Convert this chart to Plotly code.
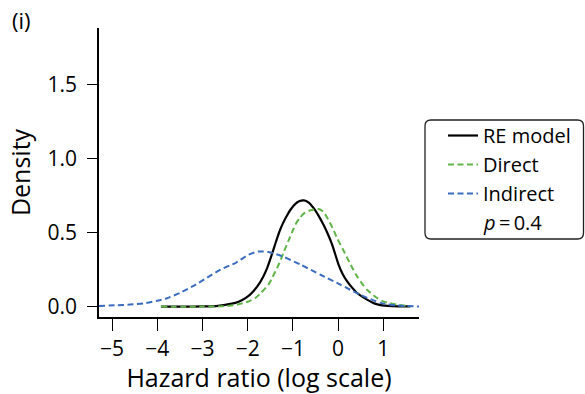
import plotly.graph_objects as go

# ---- data ----
re_x = [-3.92, -3.4, -3.0, -2.7, -2.5, -2.27, -2.12, -1.98, -1.87, -1.76, -1.66, -1.57, -1.5,
        -1.42, -1.35, -1.28, -1.2, -1.13, -1.05, -0.94, -0.85, -0.76, -0.65, -0.54, -0.43,
        -0.32, -0.22, -0.13, 0.01, 0.1, 0.2, 0.31, 0.42, 0.64, 0.8, 0.94, 1.2, 1.6]
re_y = [0, 0, 0.001, 0.004, 0.012, 0.025, 0.045, 0.072, 0.105, 0.148, 0.2, 0.26, 0.32,
        0.395, 0.46, 0.52, 0.575, 0.615, 0.655, 0.695, 0.712, 0.716, 0.702, 0.664, 0.612,
        0.55, 0.485, 0.417, 0.283, 0.22, 0.17, 0.128, 0.092, 0.047, 0.022, 0.01, 0.004, 0.001]

direct_x = [-3.92, -3.0, -2.6, -2.4, -2.2, -2.0, -1.83, -1.7, -1.54, -1.45, -1.35, -1.27, -1.2,
            -1.09, -1.0, -0.94, -0.85, -0.76, -0.61, -0.43, -0.33, -0.24, -0.12, -0.02, 0.1,
            0.2, 0.31, 0.42, 0.53, 0.64, 0.86, 1.0, 1.3, 1.6]
direct_y = [0, 0, 0.002, 0.006, 0.016, 0.033, 0.058, 0.095, 0.148, 0.2, 0.26, 0.315, 0.37,
            0.45, 0.515, 0.555, 0.598, 0.627, 0.65, 0.658, 0.64, 0.6, 0.53, 0.46, 0.39,
            0.33, 0.264, 0.204, 0.155, 0.114, 0.059, 0.035, 0.013, 0.002]

indirect_x = [-5.29, -4.9, -4.6, -4.3, -4.0, -3.8, -3.5, -3.2, -2.9, -2.6, -2.4, -2.27, -1.98,
              -1.76, -1.54, -1.24, -0.83, -0.39, 0.05, 0.49, 0.94, 1.3, 1.79]
indirect_y = [0.005, 0.009, 0.014, 0.022, 0.04, 0.055, 0.092, 0.14, 0.195, 0.25, 0.278, 0.294, 0.35,
              0.372, 0.368, 0.34, 0.283, 0.215, 0.148, 0.08, 0.025, 0.008, 0.001]

x_ticks = [-5, -4, -3, -2, -1, 0, 1]
y_ticks = [0.0, 0.5, 1.0, 1.5]
series_names = ["RE model", "Direct", "Indirect"]
p_label = "<i>p</i>\u2009=\u20090.4"

FONT = "Open Sans"
FS = 21
BLACK = "#000000"
GREEN = "#62b54a"
BLUE = "#3b6cc0"

fig = go.Figure()
fig.add_trace(go.Scatter(x=re_x, y=re_y, mode="lines", name=series_names[0],
                         line=dict(color=BLACK, width=2.2, shape="spline", smoothing=0.6)))
fig.add_trace(go.Scatter(x=direct_x, y=direct_y, mode="lines", name=series_names[1],
                         line=dict(color=GREEN, width=2, dash="6px,3.5px", shape="spline", smoothing=0.6)))
fig.add_trace(go.Scatter(x=indirect_x, y=indirect_y, mode="lines", name=series_names[2],
                         line=dict(color=BLUE, width=2, dash="6px,3.5px", shape="spline", smoothing=0.6)))

L, R, T, B = 99, 166, 28, 77
W, H = 585, 394
pw, ph = W - L - R, H - T - B

def px_x(p):
    return (p - L) / pw

def px_y(p):
    return (H - B - p) / ph

# rounded legend box
x0, x1 = px_x(425), px_x(583.5)
y0, y1 = px_y(239), px_y(120)
rx, ry = 6 / pw, 6 / ph
path = (f"M {x0+rx},{y1} L {x1-rx},{y1} Q {x1},{y1} {x1},{y1-ry} "
        f"L {x1},{y0+ry} Q {x1},{y0} {x1-rx},{y0} L {x0+rx},{y0} "
        f"Q {x0},{y0} {x0},{y0+ry} L {x0},{y1-ry} Q {x0},{y1} {x0+rx},{y1} Z")
fig.add_shape(type="path", path=path, xref="paper", yref="paper",
              line=dict(color="#222222", width=1.3), fillcolor="rgba(0,0,0,0)", layer="below")

fig.add_annotation(text="(i)", xref="paper", yref="paper", x=px_x(10), y=px_y(20),
                   xanchor="left", yanchor="middle", showarrow=False,
                   font=dict(family=FONT, size=22, color="black"))
fig.add_annotation(text=p_label, xref="paper", yref="paper", x=px_x(481), y=px_y(222),
                   xanchor="left", yanchor="middle", showarrow=False,
                   font=dict(family=FONT, size=20, color="black"))

fig.update_layout(
    width=W, height=H,
    margin=dict(l=L, r=R, t=T, b=B, autoexpand=False),
    paper_bgcolor="white", plot_bgcolor="white",
    font=dict(family=FONT, size=FS, color="black"),
    showlegend=True,
    legend=dict(x=px_x(443), y=px_y(116), xanchor="left", yanchor="top",
                bgcolor="rgba(0,0,0,0)", borderwidth=0,
                font=dict(family=FONT, size=20), tracegroupgap=0, itemwidth=30),
    xaxis=dict(range=[-5.29, 1.79], tickvals=x_ticks, ticks="outside", ticklen=12, tickwidth=1.4,
               tickcolor="black", showline=True, linecolor="black", linewidth=1.6,
               showgrid=False, zeroline=False, automargin=False,
               title=dict(text="Hazard ratio (log scale)", standoff=6)),
    yaxis=dict(range=[-0.07, 1.879], tickvals=y_ticks, tickformat=".1f", ticks="outside",
               ticklen=10, tickwidth=1.4, tickcolor="black", showline=True, linecolor="black",
               linewidth=1.6, showgrid=False, zeroline=False, automargin=False,
               ticklabelstandoff=6,
               title=dict(text="Density", standoff=10)),
)

fig.write_html("out.html", config={"displayModeBar": False},
               post_script="document.body.style.margin='0';document.body.style.overflow='hidden';")
